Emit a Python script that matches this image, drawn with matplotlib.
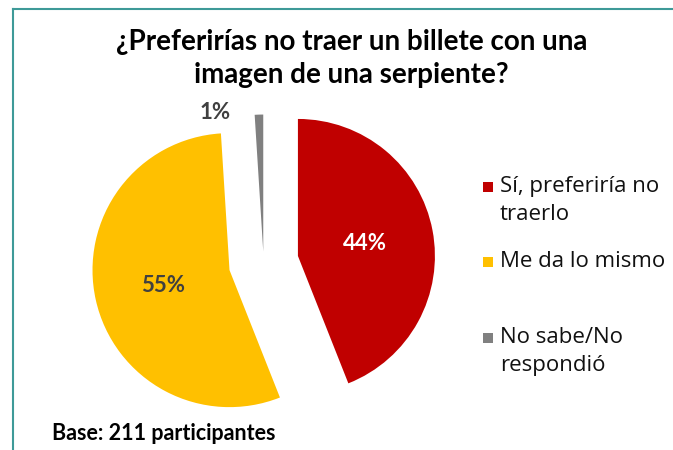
import matplotlib
matplotlib.use("Agg")
import matplotlib.pyplot as plt
from matplotlib.patches import Rectangle
from matplotlib.lines import Line2D

categories = ["Sí, preferiría no\ntraerlo", "Me da lo mismo", "No sabe/No\nrespondió"]
values = [44, 55, 1]
colors = ["#C00000", "#FFC000", "#808080"]
explode = [0.255, 0.255, 0.08]
title = "¿Preferirías no traer un billete con una\nimagen de una serpiente?"
note = "Base: 211 participantes"

W, H = 673, 450
fig = plt.figure(figsize=(W / 100, H / 100), dpi=100)
ax = fig.add_axes([0, 0, 1, 1])
cx, cy, r = 263.6, 262.5, 137.0

wedges, texts, autotexts = ax.pie(
    values, colors=colors, explode=explode, startangle=90, counterclock=False,
    radius=1.0, autopct="%.0f%%", pctdistance=0.5,
    textprops=dict(fontsize=16, fontweight="bold", family="Lato"),
    wedgeprops=dict(linewidth=0), frame=True)
ax.set_xlim(-cx / r, (W - cx) / r)
ax.set_ylim(-(H - cy) / r, cy / r)
ax.set_aspect("auto")
ax.axis("off")
autotexts[0].set_color("white")
autotexts[1].set_color("#404040")
autotexts[2].set_color("#404040")
autotexts[2].set_position(((215 - cx) / r, (cy - 112) / r))

fig.text(0.522, 1 - 58.5 / H, title, ha="center", va="center", fontsize=20,
         fontweight="bold", family="Lato", linespacing=1.38)
fig.text(52 / W, 1 - 433 / H, note, ha="left", va="center", fontsize=15.5,
         fontweight="bold", family="Lato")

# legend
leg_y = [187, 262, 338]
for lab, col, y in zip(categories, colors, leg_y):
    fig.patches.append(Rectangle((483 / W, 1 - (y + 5) / H), 10 / W, 10 / H,
                                 transform=fig.transFigure, facecolor=col,
                                 edgecolor="none"))
    fig.text(500 / W, 1 - (y - 11) / H, lab, ha="left", va="top", fontsize=16,
             family="Open Sans", color="#111111", linespacing=1.42)

# border
bc = "#3E9A98"
fig.lines.append(Line2D([13 / W, 1], [1 - 9 / H, 1 - 9 / H], transform=fig.transFigure,
                        color=bc, linewidth=1.5))
fig.lines.append(Line2D([13 / W, 13 / W], [1 - 9 / H, 0], transform=fig.transFigure,
                        color=bc, linewidth=1.5))

fig.savefig("out.png", dpi=100)
